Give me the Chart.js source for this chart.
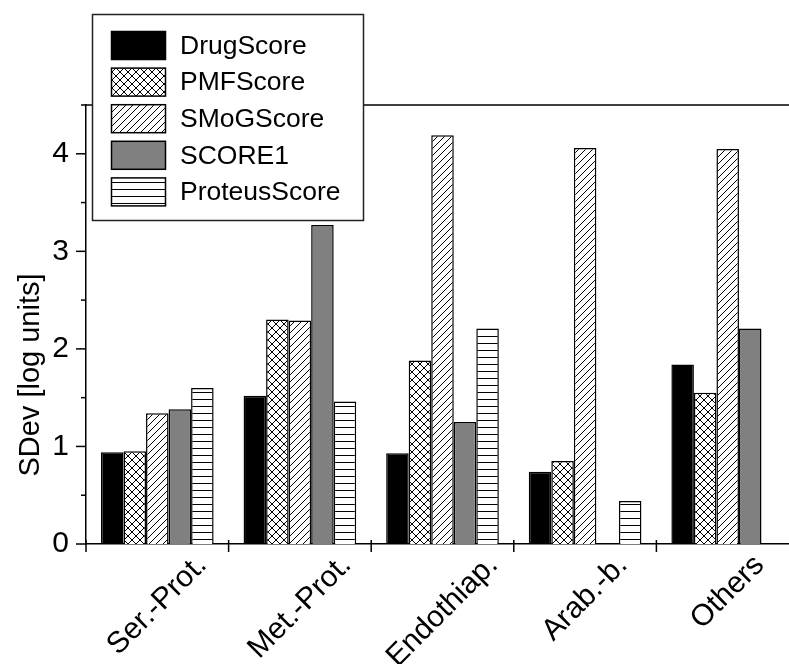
<!DOCTYPE html>
<html><head><meta charset="utf-8">
<script src="https://cdn.jsdelivr.net/npm/chart.js@4/dist/chart.umd.min.js"></script>
<style>html,body{margin:0;padding:0;overflow:hidden;background:#fff}#wrap{width:800px;height:664px;position:relative}</style>
</head><body><div id="wrap"><canvas id="c"></canvas></div>
<script>
const categories = ['Ser.-Prot.', 'Met.-Prot.', 'Endothiap.', 'Arab.-b.', 'Others'];
const seriesNames = ['DrugScore', 'PMFScore', 'SMoGScore', 'SCORE1', 'ProteusScore'];
const drugScore    = [0.94, 1.52, 0.93, 0.74, 1.84];
const pmfScore     = [0.95, 2.30, 1.88, 0.85, 1.55];
const smogScore    = [1.34, 2.29, 4.19, 4.06, 4.05];
const score1       = [1.38, 3.27, 1.25, null, 2.21];
const proteusScore = [1.60, 1.46, 2.21, 0.44, null];
const yTickValues  = [0, 0.5, 1, 1.5, 2, 2.5, 3, 3.5, 4, 4.5];
const yTitle = 'SDev [log units]';

const FONT = '"Liberation Sans", Arial, Helvetica, sans-serif';

function makePattern(kind) {
  const s = kind === 'x' ? 8 : 7;
  const c = document.createElement('canvas');
  c.width = s; c.height = s;
  const g = c.getContext('2d');
  g.fillStyle = '#fff'; g.fillRect(0, 0, s, s);
  g.strokeStyle = '#000'; g.lineWidth = 1;
  g.beginPath();
  if (kind === 'h') {
    g.moveTo(0, 0.5); g.lineTo(s, 0.5);
  }
  if (kind === 'f' || kind === 'x') {
    g.moveTo(0, s); g.lineTo(s, 0);
    g.moveTo(-2, 2); g.lineTo(2, -2);
    g.moveTo(s - 2, s + 2); g.lineTo(s + 2, s - 2);
  }
  if (kind === 'x') {
    g.moveTo(0, 0); g.lineTo(s, s);
    g.moveTo(-2, s - 2); g.lineTo(2, s + 2);
    g.moveTo(s - 2, -2); g.lineTo(s + 2, 2);
  }
  g.stroke();
  return g.createPattern(c, 'repeat');
}

const fills = ['#000000', makePattern('x'), makePattern('f'), '#808080', makePattern('h')];
const seriesData = [drugScore, pmfScore, smogScore, score1, proteusScore];

const datasets = seriesNames.map((name, i) => ({
  label: name,
  data: seriesData[i],
  backgroundColor: fills[i],
  borderColor: '#000',
  borderWidth: 1.5,
  categoryPercentage: 0.79,
  barPercentage: 1.0
}));

const decor = {
  id: 'decor',
  afterDraw(chart) {
    const ctx = chart.ctx;
    const a = chart.chartArea;
    const xs = chart.scales.x, ys = chart.scales.y;
    ctx.save();
    ctx.strokeStyle = '#000';
    ctx.lineWidth = 1.5;
    ctx.beginPath();
    ctx.moveTo(a.left, a.top); ctx.lineTo(a.right, a.top);
    ctx.stroke();
    yTickValues.forEach(v => {
      const y = ys.getPixelForValue(v);
      const len = Number.isInteger(v) ? 10 : 5;
      ctx.beginPath();
      ctx.moveTo(a.left - len, y); ctx.lineTo(a.left, y);
      ctx.stroke();
    });
    for (let i = 0; i <= categories.length; i++) {
      const x = xs.getPixelForValue(i - 0.5);
      ctx.beginPath();
      ctx.moveTo(x, a.bottom - 4); ctx.lineTo(x, a.bottom + 8);
      ctx.stroke();
    }
    ctx.fillStyle = '#000';
    ctx.font = '30px ' + FONT;
    categories.forEach((lab, i) => {
      const cx = xs.getPixelForValue(i);
      const w = ctx.measureText(lab).width;
      const half = (w + 24) / (2 * Math.SQRT2);
      const cy = a.bottom + 8 + half;
      ctx.save();
      ctx.translate(cx, cy);
      ctx.rotate(-Math.PI / 4);
      ctx.textAlign = 'center';
      ctx.textBaseline = 'middle';
      ctx.fillText(lab, 0, 0);
      ctx.restore();
    });
    ctx.font = '29px ' + FONT;
    ctx.save();
    ctx.translate(31, 375);
    ctx.rotate(-Math.PI / 2);
    ctx.textAlign = 'center';
    ctx.textBaseline = 'middle';
    ctx.fillText(yTitle, 0, 0);
    ctx.restore();
    ctx.fillStyle = '#fff';
    ctx.fillRect(92.5, 14.5, 271, 206);
    ctx.strokeStyle = '#222';
    ctx.lineWidth = 1.5;
    ctx.strokeRect(92.5, 14.5, 271, 206);
    ctx.font = '26.5px ' + FONT;
    ctx.textBaseline = 'middle';
    ctx.textAlign = 'left';
    chart.data.datasets.forEach((ds, i) => {
      const y = 31.5 + i * 36.6;
      ctx.fillStyle = ds.backgroundColor;
      ctx.fillRect(111.5, y, 54, 28);
      ctx.strokeStyle = '#000';
      ctx.lineWidth = 1.5;
      ctx.strokeRect(111.5, y, 54, 28);
      ctx.fillStyle = '#000';
      ctx.fillText(ds.label, 180, y + 15);
    });
    ctx.restore();
  }
};

new Chart(document.getElementById('c'), {
  type: 'bar',
  data: { labels: categories, datasets },
  options: {
    responsive: true,
    maintainAspectRatio: false,
    animation: false,
    layout: { padding: { top: 105, right: 1, left: 0, bottom: 0 } },
    plugins: { legend: { display: false }, tooltip: { enabled: false } },
    scales: {
      x: {
        type: 'category',
        offset: true,
        grid: { display: false, drawTicks: false },
        border: { display: true, color: '#000', width: 1.5 },
        ticks: { display: false },
        afterFit(scale) { scale.height = 120; }
      },
      y: {
        min: 0, max: 4.5,
        grid: { display: false, drawTicks: false },
        border: { display: true, color: '#000', width: 1.5 },
        ticks: {
          stepSize: 0.5,
          autoSkip: false,
          padding: 17,
          color: '#000',
          font: { size: 30, family: FONT },
          callback: v => Number.isInteger(v) ? String(v) : ''
        },
        afterFit(scale) { scale.width = 86; }
      }
    }
  },
  plugins: [decor]
});
</script>
</body></html>
